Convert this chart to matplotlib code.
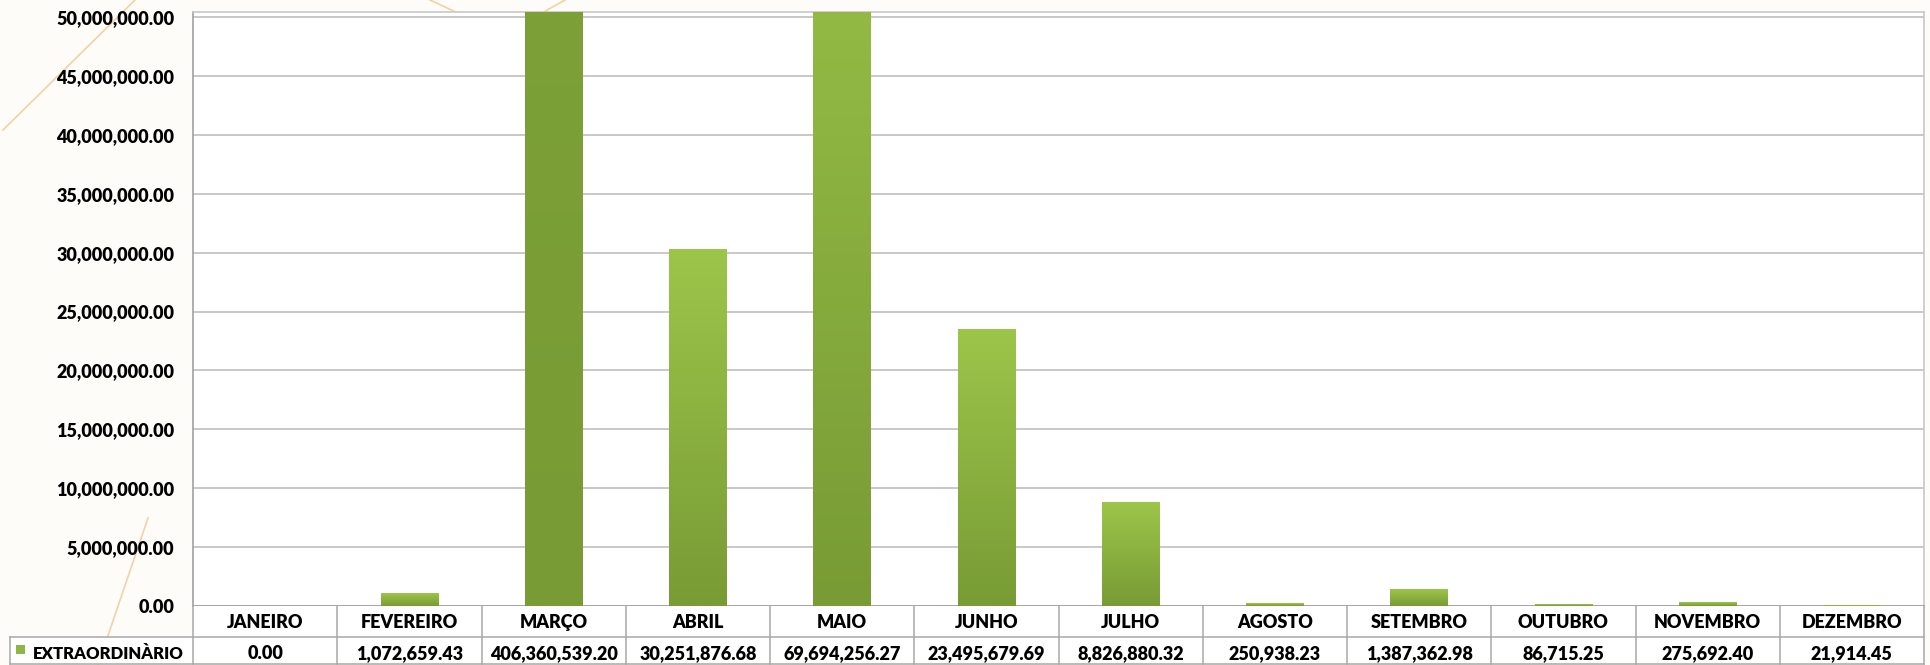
import matplotlib
matplotlib.use("Agg")
import matplotlib.pyplot as plt
import numpy as np
import os
from matplotlib import font_manager as fm
from matplotlib.transforms import blended_transform_factory
from matplotlib.colors import LinearSegmentedColormap
from matplotlib.patches import Rectangle
from matplotlib.lines import Line2D

# ---- data ----
months = ["JANEIRO", "FEVEREIRO", "MARÇO", "ABRIL", "MAIO", "JUNHO", "JULHO",
          "AGOSTO", "SETEMBRO", "OUTUBRO", "NOVEMBRO", "DEZEMBRO"]
values = [0.00, 1072659.43, 406360539.20, 30251876.68, 69694256.27, 23495679.69,
          8826880.32, 250938.23, 1387362.98, 86715.25, 275692.40, 21914.45]
series_name = "EXTRAORDINÀRIO"
yticks = [0, 5e6, 10e6, 15e6, 20e6, 25e6, 30e6, 35e6, 40e6, 45e6, 50e6]

# ---- style ----
W, H = 1930, 665
DPI = 100
BG = "#fdfcf9"
FS = 13
GRID = "#c4c4c4"
TABLE_LINE = "#a8a8a8"
top_col = "#9dc54a"
bot_col = "#789b35"


def find_file(basenames):
    files = {os.path.basename(f.fname): f.fname for f in fm.fontManager.ttflist}
    for b in basenames:
        if b in files:
            return files[b]
    return None

bold_file = find_file(["Lato-ExtraBold.ttf", "Lato-Heavy.ttf", "Lato-Bold.ttf",
                       "Roboto-Bold.ttf", "DejaVuSans-Bold.ttf"])
if bold_file:
    FP = fm.FontProperties(fname=bold_file, size=FS)
    FP_LAB = fm.FontProperties(fname=bold_file, size=12)
else:
    FP = fm.FontProperties(family="DejaVu Sans", weight="bold", size=FS)
    FP_LAB = fm.FontProperties(family="DejaVu Sans", weight="bold", size=11)

fig = plt.figure(figsize=(W / DPI, H / DPI), dpi=DPI, facecolor=BG)

def fy(py):
    return 1 - py / H

def fx(px):
    return px / W

# decorative background lines
deco = "#f1d3a2"
for (x0, y0, x1, y1) in [(3, 130, 135, 0), (148, 518, 98, 665),
                         (430, 0, 460, 14), (565, 0, 540, 14)]:
    fig.add_artist(Line2D([fx(x0), fx(x1)], [fy(y0), fy(y1)], color=deco, lw=1.2,
                          transform=fig.transFigure, zorder=0))

left_px, right_px, top_px, zero_px = 193, 1924, 12, 606
grid50_px = 17
ax = fig.add_axes([fx(left_px), fy(zero_px), fx(right_px - left_px),
                   (zero_px - top_px) / H])
ax.set_facecolor("white")

ymax = 50e6 * (zero_px - top_px) / (zero_px - grid50_px)
n = len(months)
x = np.arange(n)
bw = 0.4

bars = ax.bar(x, values, width=bw, color="none", edgecolor="none", zorder=3)
cmap = LinearSegmentedColormap.from_list("g", [bot_col, top_col])
for b, v in zip(bars, values):
    if v <= 0:
        continue
    shown = min(v, ymax)
    frac = shown / v
    grad = np.linspace(0, frac, 256).reshape(-1, 1)
    ax.imshow(grad, cmap=cmap, vmin=0, vmax=1, origin="lower", aspect="auto",
              extent=(b.get_x(), b.get_x() + b.get_width(), 0, shown), zorder=3)

ax.set_xlim(-0.5, n - 0.5)
ax.set_ylim(0, ymax)
ax.set_yticks(yticks)
ax.set_yticklabels([f"{t:,.2f}" for t in yticks])
for lab in ax.get_yticklabels():
    lab.set_fontproperties(FP)
ax.tick_params(axis="y", length=0, pad=13.5)
ax.set_xticks([])
ax.yaxis.grid(True, color=GRID, lw=1.3, zorder=0)
ax.set_axisbelow(True)
for s in ["top", "right"]:
    ax.spines[s].set_color("#c8c8c8")
    ax.spines[s].set_linewidth(1.2)
ax.spines["left"].set_color("#a0a0a0")
ax.spines["bottom"].set_color("#a0a0a0")
ax.spines["left"].set_linewidth(1.2)
ax.spines["bottom"].set_linewidth(1.2)

# ---- data table ----
tr = blended_transform_factory(ax.transData, fig.transFigure)
row1_top, row_mid, row2_bot = 606, 637, 664
fig.add_artist(Rectangle((fx(left_px), fy(row2_bot)), fx(right_px - left_px),
                         (row2_bot - row1_top) / H, transform=fig.transFigure,
                         facecolor="white", edgecolor="none", zorder=1))
fig.add_artist(Rectangle((fx(10), fy(row2_bot)), fx(left_px - 10),
                         (row2_bot - row_mid) / H, transform=fig.transFigure,
                         facecolor="white", edgecolor="none", zorder=1))
for i in range(n + 1):
    fig.add_artist(Line2D([i - 0.5, i - 0.5], [fy(row1_top), fy(row2_bot)],
                          transform=tr, color=TABLE_LINE, lw=1.1, zorder=2))
for yy in (row_mid, row2_bot):
    fig.add_artist(Line2D([fx(10), fx(right_px)], [fy(yy), fy(yy)],
                          transform=fig.transFigure, color=TABLE_LINE, lw=1.1, zorder=2))
fig.add_artist(Line2D([fx(10), fx(10)], [fy(row_mid), fy(row2_bot)],
                      transform=fig.transFigure, color=TABLE_LINE, lw=1.1, zorder=2))

hdr_base, val_base = 628, 659
for i, (m, v) in enumerate(zip(months, values)):
    fig.text(i, fy(hdr_base), m, transform=tr, ha="center", va="baseline",
             fontproperties=FP, color="black", zorder=4)
    fig.text(i, fy(val_base), f"{v:,.2f}", transform=tr, ha="center",
             va="baseline", fontproperties=FP, color="black", zorder=4)

fig.add_artist(Rectangle((fx(16), fy(654)), fx(9), 9 / H, transform=fig.transFigure,
                         facecolor="#8db548", edgecolor="none", zorder=3))
fig.text(fx(33), fy(val_base), series_name, ha="left", va="baseline",
         fontproperties=FP_LAB, color="black", zorder=4)

fig.savefig("out.png", dpi=DPI, facecolor=BG)
